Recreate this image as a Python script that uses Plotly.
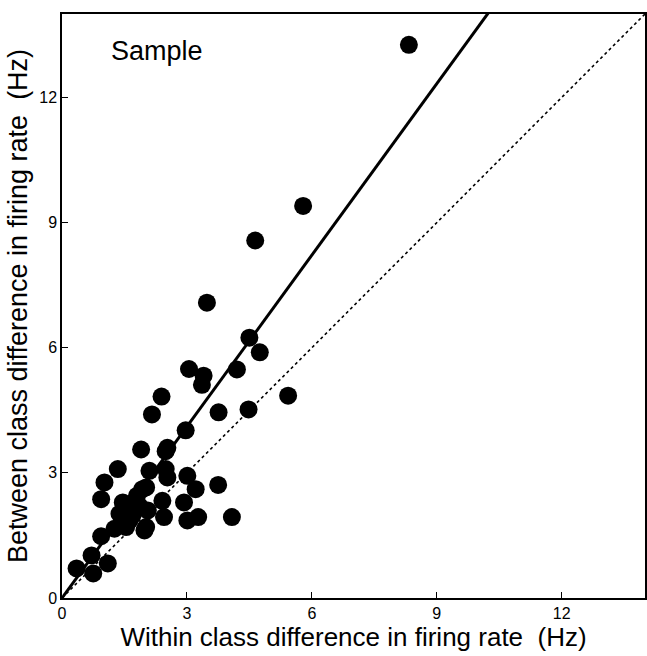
import plotly.graph_objects as go

within_hz = [8.33, 5.79, 4.64, 3.48, 4.50, 4.75, 3.05, 3.40, 3.36, 4.20, 2.39, 2.16, 3.76, 4.48,
             5.43, 2.97, 2.53, 1.90, 2.49, 1.34, 2.10, 2.49, 3.01, 1.02, 3.21, 3.75, 1.93, 2.02,
             0.94, 2.41, 2.93, 1.46, 1.62, 1.38, 2.06, 2.45, 3.01, 4.08, 1.62, 2.02, 1.26, 1.54,
             1.98, 0.94, 0.71, 1.10, 0.35, 0.75, 1.80, 1.70, 2.53, 1.50, 3.27, 1.86]
between_hz = [13.26, 9.40, 8.57, 7.08, 6.24, 5.89, 5.49, 5.33, 5.11, 5.48, 4.83, 4.40, 4.45, 4.52,
              4.85, 4.02, 3.60, 3.56, 3.52, 3.09, 3.05, 3.09, 2.93, 2.77, 2.61, 2.71, 2.61, 2.65,
              2.37, 2.33, 2.29, 2.29, 2.21, 2.02, 2.10, 1.94, 1.86, 1.94, 1.86, 1.70, 1.66, 1.70,
              1.62, 1.48, 1.02, 0.83, 0.71, 0.59, 2.45, 2.00, 2.89, 1.80, 1.94, 2.20]

fit_slope = 1.37
line_x = [0, 14]
fit_y = [0, 14 * fit_slope]
identity_y = [0, 14]

FONT = "Liberation Sans, Arial, sans-serif"

fig = go.Figure()
fig.add_trace(go.Scatter(x=line_x, y=identity_y, mode="lines",
                         line=dict(color="black", width=1.6, dash="dot"),
                         showlegend=False, hoverinfo="skip"))
fig.add_trace(go.Scatter(x=line_x, y=fit_y, mode="lines",
                         line=dict(color="black", width=3),
                         showlegend=False, hoverinfo="skip"))
fig.add_trace(go.Scatter(x=within_hz, y=between_hz, mode="markers",
                         marker=dict(color="black", size=18, line=dict(width=0)),
                         showlegend=False))

axis_common = dict(range=[0, 14], tickvals=[0, 3, 6, 9, 12], ticks="inside", ticklen=6,
                   tickwidth=1.2, tickcolor="black", showline=True, linecolor="black",
                   linewidth=1.5, mirror=True, showgrid=False, zeroline=False,
                   tickfont=dict(family=FONT, size=16, color="black"))

fig.update_xaxes(**axis_common,
                 title=dict(text="Within class difference in firing rate  (Hz)",
                            font=dict(family=FONT, size=26, color="black"),
                            standoff=2))
fig.update_yaxes(**axis_common,
                 title=dict(text="Between class difference in firing rate  (Hz)",
                            font=dict(family=FONT, size=27, color="black"),
                            standoff=4))

fig.add_annotation(x=0.08, y=0.965, xref="paper", yref="paper", text="Sample",
                   showarrow=False, xanchor="left", yanchor="top",
                   font=dict(family=FONT, size=27, color="black"))

fig.update_layout(width=647, height=656, margin=dict(l=62, r=0, t=14, b=58),
                  paper_bgcolor="white", plot_bgcolor="white")

fig.write_html("out.html")
